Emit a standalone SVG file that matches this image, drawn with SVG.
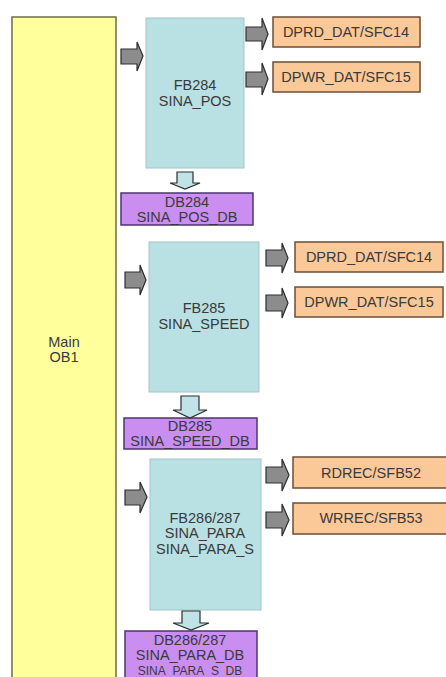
<svg xmlns="http://www.w3.org/2000/svg" width="446" height="677" viewBox="0 0 446 677">
<defs>
<style>
text{font-family:"Liberation Sans",Arial,sans-serif;font-size:14.5px;text-anchor:middle;fill:#3a3a3a}
.main{fill:#ffff9c;stroke:#6e6e45;stroke-width:1.5}
.fb{fill:#b9e0e3;stroke:#a3c6c9;stroke-width:1}
.ext{fill:#fbc898;stroke:#6e4e36;stroke-width:1.5}
.db{fill:#c98ef0;stroke:#4e3470;stroke-width:1.5}
.db text{fill:#3a1f5c}
.ga{fill:#8c8c8c;stroke:#2e2e2e;stroke-width:1.2;stroke-linejoin:miter}
.da{fill:#bfe3e6;stroke:#2e2e2e;stroke-width:1.2}
</style>
</defs>
<rect width="446" height="677" fill="#ffffff"/>

<g id="main">
<rect class="main" x="12" y="17" width="104" height="670"/>
<text x="64" y="347">Main</text>
<text x="64" y="362">OB1</text>
</g>

<g id="fb284">
<rect class="fb" x="146" y="18" width="98" height="150"/>
<text x="195" y="90">FB284</text>
<text x="195" y="106">SINA_POS</text>
</g>
<g id="dprd1">
<rect class="ext" x="273" y="17" width="147" height="30"/>
<text x="346" y="37">DPRD_DAT/SFC14</text>
</g>
<g id="dpwr1">
<rect class="ext" x="273" y="62" width="147" height="30"/>
<text x="346" y="82">DPWR_DAT/SFC15</text>
</g>
<g id="db284">
<rect class="db" x="121" y="193" width="132" height="32"/>
<text x="187" y="207">DB284</text>
<text x="187" y="222">SINA_POS_DB</text>
</g>

<g id="fb285">
<rect class="fb" x="149" y="242" width="110" height="150"/>
<text x="204" y="313">FB285</text>
<text x="204" y="329">SINA_SPEED</text>
</g>
<g id="dprd2">
<rect class="ext" x="295" y="242" width="148" height="30"/>
<text x="369" y="262">DPRD_DAT/SFC14</text>
</g>
<g id="dpwr2">
<rect class="ext" x="295" y="287" width="148" height="30"/>
<text x="369" y="307">DPWR_DAT/SFC15</text>
</g>
<g id="db285">
<rect class="db" x="124" y="418" width="133" height="31"/>
<text x="190" y="431">DB285</text>
<text x="190" y="446">SINA_SPEED_DB</text>
</g>

<g id="fb286">
<rect class="fb" x="150" y="459" width="111" height="151"/>
<text x="205" y="523">FB286/287</text>
<text x="205" y="538">SINA_PARA</text>
<text x="205" y="554">SINA_PARA_S</text>
</g>
<g id="rdrec">
<rect class="ext" x="293" y="457" width="160" height="31"/>
<text x="371" y="478">RDREC/SFB52</text>
</g>
<g id="wrrec">
<rect class="ext" x="293" y="503" width="160" height="31"/>
<text x="371" y="523">WRREC/SFB53</text>
</g>
<g id="db286">
<rect class="db" x="125" y="631" width="132" height="56"/>
<text x="190" y="645">DB286/287</text>
<text x="190" y="660">SINA_PARA_DB</text>
<text x="190" y="675" style="font-size:12px">SINA_PARA_S_DB</text>
</g>

<g id="connectors">
<path class="ga" d="M121,49 H137 V42 L143,56 L137,71 V64 H121 Z"/>
<path class="ga" d="M246,27 H262 V18 L268,34 L262,50 V41 H246 Z"/>
<path class="ga" d="M246,72 H262 V63 L268,79 L262,95 V87 H246 Z"/>
<path class="da" d="M177,172 H193 V183 H200 L185,189 L170,183 H177 Z"/>

<path class="ga" d="M125,272 H140 V265 L146,280 L140,295 V288 H125 Z"/>
<path class="ga" d="M266,250 H282 V243 L288,258 L282,273 V266 H266 Z"/>
<path class="ga" d="M266,295 H282 V288 L288,303 L282,318 V311 H266 Z"/>
<path class="da" d="M181,396 H199 V410 H207 L190,418 L173,410 H181 Z"/>

<path class="ga" d="M125,490 H140 V482 L147,497 L140,513 V505 H125 Z"/>
<path class="ga" d="M266,467 H282 V459 L289,475 L282,491 V483 H266 Z"/>
<path class="ga" d="M266,512 H282 V504 L289,520 L282,536 V528 H266 Z"/>
<path class="da" d="M182,611 H200 V623 H209 L191,630 L173,623 H182 Z"/>
</g>
</svg>
